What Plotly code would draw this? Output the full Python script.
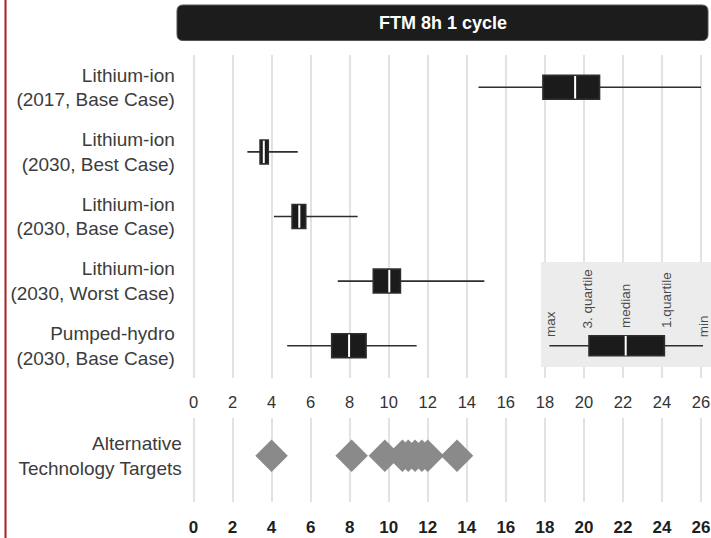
import plotly.graph_objects as go

# ---------------- data ----------------
categories = [
    "Lithium-ion<br>(2017, Base Case)",
    "Lithium-ion<br>(2030, Best Case)",
    "Lithium-ion<br>(2030, Base Case)",
    "Lithium-ion<br>(2030, Worst Case)",
    "Pumped-hydro<br>(2030, Base Case)",
]
whisker_low = [14.6, 2.76, 4.12, 7.39, 4.8]
q1_vals = [17.9, 3.41, 5.05, 9.21, 7.08]
median_vals = [19.55, 3.6, 5.42, 10.03, 7.97]
q3_vals = [20.8, 3.83, 5.75, 10.6, 8.84]
whisker_high = [26.0, 5.34, 8.41, 14.9, 11.43]

# explanatory legend box (drawn on the Pumped-hydro row)
legend_stats = [18.23, 20.26, 22.14, 24.12, 26.1]
legend_labels = ["max", "3. quartile", "median", "1.quartile", "min"]
legend_label_x = [18.3, 20.2, 22.1, 24.24, 26.1]

target_category = ["Alternative<br>Technology Targets"]
target_values = [4.0, 8.1, 9.8, 10.7, 11.0, 11.35, 11.7, 12.0, 13.5]

x_ticks = list(range(0, 27, 2))
title_text = "FTM 8h 1 cycle"

# ---------------- styling ----------------
FONT = "Liberation Sans, Arial, sans-serif"
W, H = 711, 538
BOX_FILL = "#1b1b1b"
WHISKER = "#2e2e2e"
GRID = "#e2e2e2"

fig = go.Figure()

fig.add_trace(go.Box(
    y=categories, q1=q1_vals, median=median_vals, q3=q3_vals,
    lowerfence=whisker_low, upperfence=whisker_high,
    orientation="h", width=0.37, whiskerwidth=0,
    fillcolor=BOX_FILL, line=dict(color=WHISKER, width=1.6),
    boxpoints=False, showlegend=False, xaxis="x", yaxis="y",
))
fig.add_trace(go.Scatter(
    x=median_vals, y=categories, mode="markers",
    marker=dict(symbol="line-ns", size=16, line=dict(color="white", width=2)),
    showlegend=False, xaxis="x", yaxis="y", hoverinfo="skip",
))

# legend box example
fig.add_trace(go.Box(
    y=[categories[4]], q1=[legend_stats[1]], median=[legend_stats[2]],
    q3=[legend_stats[3]], lowerfence=[legend_stats[0]], upperfence=[legend_stats[4]],
    orientation="h", width=0.31, whiskerwidth=0,
    fillcolor=BOX_FILL, line=dict(color=WHISKER, width=1.6),
    boxpoints=False, showlegend=False, xaxis="x", yaxis="y",
))
fig.add_trace(go.Scatter(
    x=[legend_stats[2]], y=[categories[4]], mode="markers",
    marker=dict(symbol="line-ns", size=14, line=dict(color="white", width=2)),
    showlegend=False, xaxis="x", yaxis="y", hoverinfo="skip",
))

# alternative targets
fig.add_trace(go.Scatter(
    x=target_values, y=target_category * len(target_values), mode="markers",
    marker=dict(symbol="diamond", size=25, color="#8a8a8a", line=dict(width=0)),
    showlegend=False, xaxis="x2", yaxis="y2",
))

for i, (s, lab) in enumerate(zip(legend_label_x, legend_labels)):
    ypos = 3.90 if i in (0, 4) else 3.76
    fig.add_annotation(
        x=s, y=ypos, xref="x", yref="y", text=lab, showarrow=False,
        textangle=-90, xanchor="center", yanchor="bottom",
        font=dict(family=FONT, size=13.5, color="#4a4a4a"),
    )

x_dom = [189.6 / W, 1.0]
x_rng = [-0.2, 26.51]

fig.update_layout(
    width=W, height=H,
    margin=dict(l=0, r=0, t=0, b=0),
    paper_bgcolor="white", plot_bgcolor="white",
    font=dict(family=FONT, color="#3c3c3c"),
    boxmode="overlay",
    xaxis=dict(domain=x_dom, range=x_rng, anchor="y", tickvals=x_ticks,
               showgrid=True, gridcolor=GRID, gridwidth=1.5, zeroline=False,
               showline=False, ticks="outside", ticklen=9,
               tickcolor="rgba(0,0,0,0)",
               tickfont=dict(family=FONT, size=16.5, color="#333333")),
    yaxis=dict(domain=[1 - 378 / H, 1 - 55 / H], type="category",
               categoryorder="array", categoryarray=categories,
               range=[4.5, -0.5], showgrid=False, zeroline=False,
               showline=False, ticks="outside", ticklen=10,
               tickcolor="rgba(0,0,0,0)", anchor="x",
               tickfont=dict(family=FONT, size=19, color="#3c3c3c")),
    xaxis2=dict(domain=x_dom, range=x_rng, anchor="y2", tickvals=x_ticks,
                showgrid=True, gridcolor=GRID, gridwidth=1.5, zeroline=False,
                showline=False, ticks="outside", ticklen=10,
                tickcolor="rgba(0,0,0,0)",
                tickfont=dict(family=FONT, size=17, color="#1e1e1e",
                              weight="bold")),
    yaxis2=dict(domain=[1 - 502 / H, 1 - 418 / H], type="category",
                range=[-0.55, 0.45], showgrid=False, zeroline=False,
                showline=False, ticks="outside", ticklen=3,
                tickcolor="rgba(0,0,0,0)", anchor="x2",
                tickfont=dict(family=FONT, size=19, color="#3c3c3c")),
)

# legend background
fig.add_shape(type="rect", xref="x", yref="y", x0=17.8, x1=26.51,
              y0=2.704, y1=4.33, fillcolor="#ececec",
              line=dict(width=0), layer="between")

# title bar with rounded corners (paper coordinates)
x0, x1 = 177 / W, 708 / W
yt, yb = 1 - 5 / H, 1 - 40.5 / H
rx, ry = 6 / W, 6 / H
path = (f"M {x0+rx},{yt} L {x1-rx},{yt} Q {x1},{yt} {x1},{yt-ry} "
        f"L {x1},{yb+ry} Q {x1},{yb} {x1-rx},{yb} L {x0+rx},{yb} "
        f"Q {x0},{yb} {x0},{yb+ry} L {x0},{yt-ry} Q {x0},{yt} {x0+rx},{yt} Z")
fig.add_shape(type="path", xref="paper", yref="paper", path=path,
              fillcolor="#1c1c1c", line=dict(color="#555555", width=1))
fig.add_annotation(x=(x0 + x1) / 2, y=(yt + yb) / 2, xref="paper", yref="paper",
                   xanchor="center", yanchor="middle",
                   text=title_text, showarrow=False,
                   font=dict(family=FONT, size=18, color="white", weight="bold"))

# red page border at left
fig.add_shape(type="line", xref="paper", yref="paper", x0=5.5 / W, x1=5.5 / W,
              y0=0, y1=1, line=dict(color="#a8201f", width=2))

fig.write_html("out.html",
               config={"displayModeBar": False},
               post_script="document.body.style.margin='0';"
                           "document.body.style.overflow='hidden';")
